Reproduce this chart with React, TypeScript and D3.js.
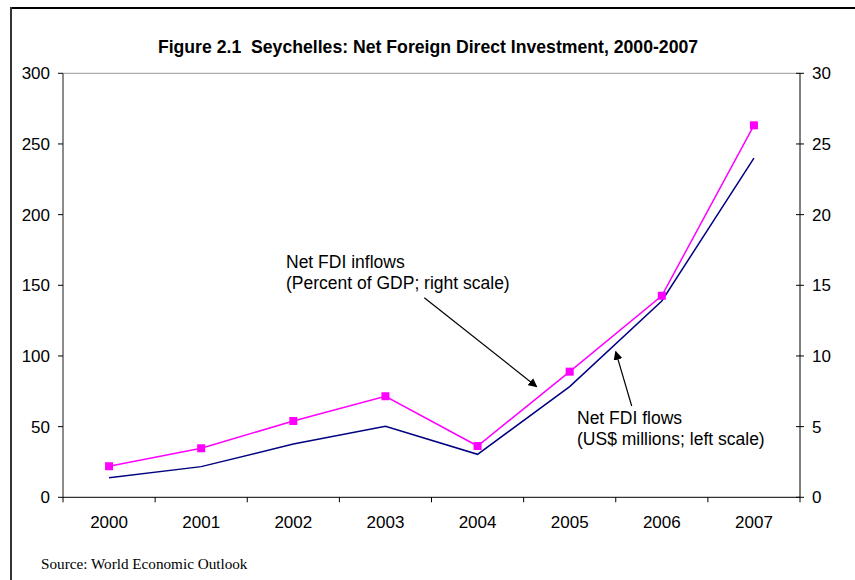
import React from "react";
import * as d3 from "d3";

const years = ["2000", "2001", "2002", "2003", "2004", "2005", "2006", "2007"];
const fdiFlowsUSD = [13.9, 21.7, 37.7, 50.2, 30.4, 78.3, 138.9, 240];
const fdiInflowsPctGDP = [2.2, 3.47, 5.4, 7.15, 3.63, 8.89, 14.26, 26.32];
const leftTicks = [0, 50, 100, 150, 200, 250, 300];
const rightTicks = [0, 5, 10, 15, 20, 25, 30];
const title = "Figure 2.1  Seychelles: Net Foreign Direct Investment, 2000-2007";
const source = "Source: World Economic Outlook";

const W = 855;
const H = 580;
const L = 63;
const R = 800;
const T = 73.3;
const B = 497.3;

export default function App() {
  const xBand = d3.scaleBand<string>().domain(years).range([L, R]).padding(0);
  const xc = (y: string) => (xBand(y) as number) + xBand.bandwidth() / 2;
  const yL = d3.scaleLinear().domain([0, 300]).range([B, T]);
  const yR = d3.scaleLinear().domain([0, 30]).range([B, T]);

  const lineL = d3
    .line<number>()
    .x((_, i) => xc(years[i]))
    .y((d) => yL(d));
  const lineR = d3
    .line<number>()
    .x((_, i) => xc(years[i]))
    .y((d) => yR(d));

  const font = "'Liberation Sans', Arial, sans-serif";
  const boundaries = years.map((y) => xBand(y) as number).concat([R]);
  const tickFs = 17;
  const annFs = 17.5;

  return (
    <svg
      width={W}
      height={H}
      style={{ position: "fixed", left: 0, top: 0, background: "#fff" }}
      fontFamily={font}
    >
      <defs>
        <marker
          id="arrow"
          viewBox="0 0 10 10"
          refX="9"
          refY="5"
          markerWidth="9"
          markerHeight="9"
          markerUnits="userSpaceOnUse"
          orient="auto"
        >
          <path d="M0,0 L10,5 L0,10 z" fill="#000" />
        </marker>
      </defs>
      <rect x={0} y={0} width={W} height={H} fill="#fff" />
      {/* outer frame */}
      <line x1={11} y1={8} x2={W} y2={8} stroke="#000" strokeWidth={2} />
      <line x1={11} y1={7} x2={11} y2={H} stroke="#333" strokeWidth={2} />

      <text
        x={428}
        y={53}
        textAnchor="middle"
        fontSize={17.65}
        fontWeight="bold"
        fill="#000"
        style={{ whiteSpace: "pre" }}
      >
        {title}
      </text>

      {/* plot frame */}
      <line x1={L} y1={T} x2={R} y2={T} stroke="#999" strokeWidth={1} />
      <line x1={L} y1={T} x2={L} y2={B} stroke="#666" strokeWidth={1.5} />
      <line x1={R} y1={T} x2={R} y2={B} stroke="#000" strokeWidth={1} />
      <line x1={L} y1={B} x2={R} y2={B} stroke="#000" strokeWidth={1} />

      {/* left ticks */}
      {leftTicks.map((t) => (
        <g key={"l" + t}>
          <line x1={L - 5} x2={L} y1={yL(t)} y2={yL(t)} stroke="#000" />
          <text
            x={L - 13}
            y={yL(t)}
            dy="0.35em"
            textAnchor="end"
            fontSize={tickFs}
            fill="#000"
          >
            {t}
          </text>
        </g>
      ))}
      {/* right ticks */}
      {rightTicks.map((t) => (
        <g key={"r" + t}>
          <line x1={R - 4} x2={R + 4} y1={yR(t)} y2={yR(t)} stroke="#000" />
          <text
            x={R + 12}
            y={yR(t)}
            dy="0.35em"
            textAnchor="start"
            fontSize={tickFs}
            fill="#000"
          >
            {t}
          </text>
        </g>
      ))}
      {/* x ticks */}
      {boundaries.map((bx, i) => (
        <line key={"x" + i} x1={bx} x2={bx} y1={B} y2={B + 5} stroke="#000" />
      ))}
      {years.map((y) => (
        <text
          key={"xl" + y}
          x={xc(y)}
          y={528}
          textAnchor="middle"
          fontSize={tickFs}
          fill="#000"
        >
          {y}
        </text>
      ))}

      {/* series */}
      <path d={lineL(fdiFlowsUSD) || ""} fill="none" stroke="#000080" strokeWidth={1.5} />
      <path d={lineR(fdiInflowsPctGDP) || ""} fill="none" stroke="#FF00FF" strokeWidth={1.5} />
      {fdiInflowsPctGDP.map((v, i) => (
        <rect
          key={"m" + i}
          x={xc(years[i]) - 4}
          y={yR(v) - 4}
          width={8}
          height={8}
          fill="#FF00FF"
        />
      ))}

      {/* annotations */}
      <text x={286} y={268} fontSize={annFs} fill="#000">
        Net FDI inflows
      </text>
      <text x={286} y={289} fontSize={annFs} fill="#000">
        (Percent of GDP; right scale)
      </text>
      <line
        x1={424.3}
        y1={297.7}
        x2={536.7}
        y2={386.7}
        stroke="#000"
        strokeWidth={1.2}
        markerEnd="url(#arrow)"
      />
      <text x={577} y={424} fontSize={annFs} fill="#000">
        Net FDI flows
      </text>
      <text x={577} y={445} fontSize={annFs} fill="#000">
        (US$ millions; left scale)
      </text>
      <line
        x1={631.7}
        y1={406}
        x2={615.7}
        y2={351.7}
        stroke="#000"
        strokeWidth={1.2}
        markerEnd="url(#arrow)"
      />

      <text
        x={41}
        y={569}
        fontSize={15.2}
        fontFamily="'Liberation Serif', 'Times New Roman', serif"
        fill="#000"
      >
        {source}
      </text>
    </svg>
  );
}
